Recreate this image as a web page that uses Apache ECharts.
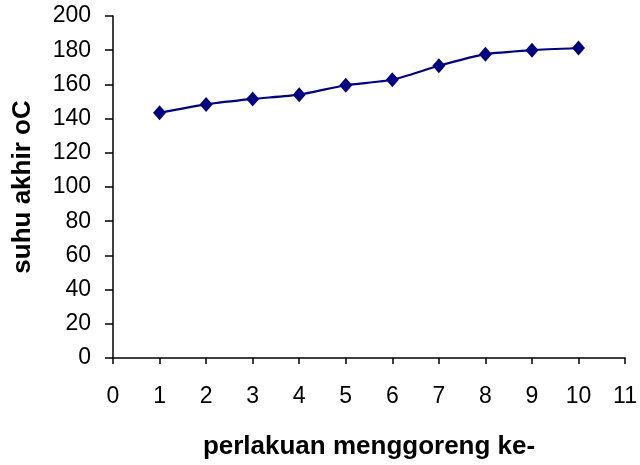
<!DOCTYPE html>
<html>
<head>
<meta charset="utf-8">
<script src="https://cdn.jsdelivr.net/npm/echarts@6/dist/echarts.min.js"></script>
<style>
  html, body { margin: 0; padding: 0; background: #fff; }
  #chart { width: 640px; height: 465px; }
</style>
</head>
<body>
<div id="chart"></div>
<script>
// data
var perlakuan = [1, 2, 3, 4, 5, 6, 7, 8, 9, 10];
var suhuAkhir = [143.4, 148.3, 151.5, 154.0, 159.5, 162.7, 170.9, 177.7, 180.0, 181.3];

var chart = echarts.init(document.getElementById('chart'));
var font = '"Liberation Sans", Arial, sans-serif';

chart.setOption({
  animation: false,
  grid: { left: 113, right: 12, top: 16, bottom: 97 },
  xAxis: {
    type: 'value', min: 0, max: 11, interval: 1,
    name: 'perlakuan menggoreng ke-', nameLocation: 'middle', nameGap: 76,
    nameTextStyle: { fontFamily: font, fontWeight: 'bold', fontSize: 26, color: '#000' },
    axisLine: { lineStyle: { color: '#000', width: 1.5 } },
    axisTick: { length: 6, lineStyle: { color: '#000', width: 1.5 } },
    axisLabel: { fontFamily: font, fontSize: 23, color: '#000', margin: 27 },
    splitLine: { show: false }
  },
  yAxis: {
    type: 'value', min: 0, max: 200, interval: 20,
    name: 'suhu akhir oC', nameLocation: 'middle', nameGap: 77,
    nameTextStyle: { fontFamily: font, fontWeight: 'bold', fontSize: 26, color: '#000' },
    axisLine: { show: true, lineStyle: { color: '#000', width: 1.5 } },
    axisTick: { show: true, length: 8, lineStyle: { color: '#000', width: 1.5 } },
    axisLabel: { fontFamily: font, fontSize: 23, color: '#000', margin: 22 },
    splitLine: { show: false }
  },
  series: [{
    type: 'line',
    data: perlakuan.map(function (x, i) { return [x, suhuAkhir[i]]; }),
    smooth: 0.2,
    symbol: 'diamond', symbolSize: [13, 15],
    itemStyle: { color: '#000080' },
    lineStyle: { color: '#000080', width: 2.2 }
  }]
});
</script>
</body>
</html>
